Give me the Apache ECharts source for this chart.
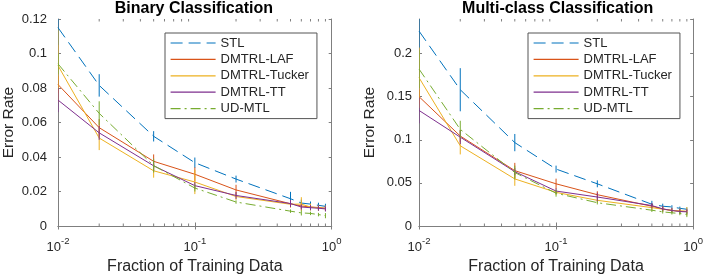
<!DOCTYPE html>
<html><head><meta charset="utf-8">
<script src="https://cdn.jsdelivr.net/npm/echarts@6/dist/echarts.min.js"></script>
<style>html,body{margin:0;padding:0;background:#fff}#c{width:706px;height:280px}</style>
</head><body><div id="c"></div>
<script>
// ---------- data ----------
const fractions = [0.01, 0.02, 0.05, 0.1, 0.2, 0.5, 0.6, 0.7, 0.8, 0.9];
const seriesNames = ['STL', 'DMTRL-LAF', 'DMTRL-Tucker', 'DMTRL-TT', 'UD-MTL'];
const minorTickValues = [0.02, 0.03, 0.04, 0.05, 0.06, 0.07, 0.08, 0.09, 0.2, 0.3, 0.4, 0.5, 0.6, 0.7, 0.8, 0.9];
const chartTitles = ['Binary Classification', 'Multi-class Classification'];

// Binary classification: means and error half-widths
const binSTL      = [0.115, 0.0815, 0.052, 0.0367, 0.0272, 0.0158, 0.0133, 0.0127, 0.0120, 0.0114];
const binSTLErr   = [0.010, 0.0065, 0.003, 0.003, 0.002, 0.004, 0.002, 0.0015, 0.0015, 0.0015];
const binLAF      = [0.082, 0.057, 0.0375, 0.030, 0.0209, 0.0129, 0.0116, 0.0110, 0.0107, 0.0103];
const binLAFErr   = [0.005, 0.005, 0.004, 0.004, 0.003, 0.002, 0.002, 0.0015, 0.0015, 0.0015];
const binTucker   = [0.093, 0.051, 0.032, 0.0255, 0.0171, 0.0126, 0.0127, 0.0110, 0.0105, 0.0102];
const binTuckerErr= [0.021, 0.007, 0.004, 0.007, 0.002, 0.002, 0.004, 0.002, 0.0015, 0.0015];
const binTT       = [0.073, 0.054, 0.0349, 0.0234, 0.0177, 0.0130, 0.0110, 0.0106, 0.0103, 0.0099];
const binTTErr    = [0.007, 0.004, 0.003, 0.002, 0.002, 0.002, 0.0015, 0.0015, 0.0015, 0.0015];
const binUD       = [0.094, 0.0653, 0.035, 0.022, 0.0139, 0.0086, 0.0076, 0.0073, 0.0066, 0.0060];
const binUDErr    = [0.006, 0.007, 0.004, 0.002, 0.001, 0.001, 0.0015, 0.001, 0.001, 0.0015];

// Multi-class classification
const mulSTL      = [0.226, 0.158, 0.0967, 0.066, 0.0489, 0.0252, 0.0229, 0.0221, 0.0205, 0.0194];
const mulSTLErr   = [0.020, 0.025, 0.010, 0.004, 0.004, 0.004, 0.003, 0.002, 0.002, 0.002];
const mulLAF      = [0.150, 0.1043, 0.0642, 0.0489, 0.0363, 0.0229, 0.0198, 0.0180, 0.0172, 0.0168];
const mulLAFErr   = [0.008, 0.007, 0.009, 0.006, 0.004, 0.003, 0.003, 0.002, 0.002, 0.002];
const mulTucker   = [0.172, 0.093, 0.0546, 0.039, 0.0298, 0.0213, 0.0195, 0.0180, 0.0175, 0.0170];
const mulTuckerErr= [0.035, 0.010, 0.008, 0.003, 0.003, 0.003, 0.003, 0.003, 0.003, 0.005];
const mulTT       = [0.134, 0.103, 0.063, 0.0405, 0.0336, 0.0237, 0.0198, 0.0180, 0.0168, 0.0164];
const mulTTErr    = [0.015, 0.008, 0.004, 0.003, 0.005, 0.003, 0.003, 0.003, 0.003, 0.003];
const mulUD       = [0.182, 0.112, 0.062, 0.038, 0.027, 0.0183, 0.0164, 0.0153, 0.0145, 0.0133];
const mulUDErr    = [0.022, 0.010, 0.008, 0.004, 0.002, 0.002, 0.002, 0.002, 0.002, 0.003];

// ---------- style ----------
const FONT = '"Liberation Sans", Arial, Helvetica, sans-serif';
const AXIS_COLOR = '#7f7f7f';
const TEXT_COLOR = '#262626';
const COLORS = ['#0072BD', '#D95319', '#EDB120', '#7E2F8E', '#77AC30'];
const LINE_TYPES = [[12, 6], 'solid', 'solid', 'solid', [10, 4, 2, 4]];

const panels = [
  { means: [binSTL, binLAF, binTucker, binTT, binUD], errs: [binSTLErr, binLAFErr, binTuckerErr, binTTErr, binUDErr],
    grid: { left: 56, top: 19, width: 275.7, height: 210.3 }, yMax: 0.12, yInterval: 0.02, yLabelMargin: 11, legendLeft: 165 },
  { means: [mulSTL, mulLAF, mulTucker, mulTT, mulUD], errs: [mulSTLErr, mulLAFErr, mulTuckerErr, mulTTErr, mulUDErr],
    grid: { left: 419, top: 19, width: 277.3, height: 210.3 }, yMax: 0.24, yInterval: 0.05, yLabelMargin: 7, legendLeft: 528 }
];

const option = { animation: false, backgroundColor: '#fff', title: [], grid: [], xAxis: [], yAxis: [], legend: [], series: [] };

panels.forEach((p, g) => {
  option.grid.push(Object.assign({ containLabel: false }, p.grid));
  option.title.push({
    text: chartTitles[g], left: p.grid.left + p.grid.width / 2, top: 1, textAlign: 'center', padding: 0,
    textStyle: { fontFamily: FONT, fontSize: 16, fontWeight: 'bold', color: '#000' }
  });
  const axisLine = { show: true, lineStyle: { color: AXIS_COLOR, width: 1 } };
  option.xAxis.push({
    type: 'log', logBase: 10, min: 0.01, max: 1, gridIndex: g, position: 'bottom',
    axisLine, axisTick: { inside: true, length: 3.5, lineStyle: { color: AXIS_COLOR } },
    splitLine: { show: false }, minorTick: { show: false },
    axisLabel: {
      margin: 10,
      formatter: v => '{b|10}{s|' + Math.round(Math.log10(v)) + '}',
      rich: {
        b: { fontFamily: FONT, fontSize: 13, color: TEXT_COLOR, lineHeight: 18, verticalAlign: 'bottom' },
        s: { fontFamily: FONT, fontSize: 9.5, color: TEXT_COLOR, lineHeight: 10, verticalAlign: 'top' }
      }
    },
    name: 'Fraction of Training Data', nameLocation: 'middle', nameGap: 33,
    nameTextStyle: { fontFamily: FONT, fontSize: 16, color: TEXT_COLOR }
  });
  option.xAxis.push({
    type: 'log', logBase: 10, min: 0.01, max: 1, gridIndex: g, position: 'top',
    axisLine, axisTick: { inside: true, length: 3.5, lineStyle: { color: AXIS_COLOR } },
    splitLine: { show: false }, axisLabel: { show: false }
  });
  option.yAxis.push({
    type: 'value', min: 0, max: p.yMax, interval: p.yInterval, gridIndex: g, position: 'left',
    axisLine, axisTick: { inside: true, length: 3, lineStyle: { color: AXIS_COLOR } },
    splitLine: { show: false },
    axisLabel: { margin: p.yLabelMargin, showMaxLabel: g === 0, fontFamily: FONT, fontSize: 13, color: TEXT_COLOR },
    name: 'Error Rate', nameLocation: 'middle', nameGap: 41, nameRotate: 90,
    nameTextStyle: { fontFamily: FONT, fontSize: 15.5, color: TEXT_COLOR }
  });
  option.yAxis.push({
    type: 'value', min: 0, max: p.yMax, interval: p.yInterval, gridIndex: g, position: 'right',
    axisLine, axisTick: { inside: true, length: 3, lineStyle: { color: AXIS_COLOR } },
    splitLine: { show: false }, axisLabel: { show: false }
  });
  const xi = 2 * g, yi = 2 * g;

  // minor ticks of the log axis (bottom and top)
  option.series.push({
    type: 'custom', name: 'minor-ticks-' + g, xAxisIndex: xi, yAxisIndex: yi, silent: true, z: 5,
    data: minorTickValues.map(v => [v, 0]),
    renderItem: (params, api) => {
      const x = api.coord([api.value(0), 0])[0];
      const cs = params.coordSys;
      const st = { stroke: AXIS_COLOR, lineWidth: 1 };
      return { type: 'group', children: [
        { type: 'line', shape: { x1: x, y1: cs.y + cs.height, x2: x, y2: cs.y + cs.height - 2.5 }, style: st },
        { type: 'line', shape: { x1: x, y1: cs.y, x2: x, y2: cs.y + 2.5 }, style: st }
      ] };
    }
  });

  seriesNames.forEach((name, k) => {
    const m = p.means[k], e = p.errs[k];
    option.series.push({
      type: 'line', name, xAxisIndex: xi, yAxisIndex: yi, symbol: 'none', showSymbol: false,
      data: fractions.map((x, i) => [x, m[i]]),
      lineStyle: { color: COLORS[k], width: 1, type: LINE_TYPES[k] },
      itemStyle: { color: COLORS[k] }, z: 2 + k * 0.01
    });
    option.series.push({
      type: 'custom', name: name + ' error', xAxisIndex: xi, yAxisIndex: yi, clip: true, silent: true,
      z: 2 + k * 0.01,
      data: fractions.map((x, i) => [x, m[i] - e[i], m[i] + e[i]]),
      encode: { x: 0, y: [1, 2] },
      renderItem: (params, api) => {
        const a = api.coord([api.value(0), api.value(1)]);
        const b = api.coord([api.value(0), api.value(2)]);
        return { type: 'line', shape: { x1: a[0], y1: a[1], x2: b[0], y2: b[1] }, style: { stroke: COLORS[k], lineWidth: 1 } };
      }
    });
  });

  option.legend.push({
    data: seriesNames, orient: 'vertical', left: p.legendLeft, top: 33,
    itemWidth: 45, itemHeight: 14, itemGap: 3.4, padding: [3.5, 8, 3.5, 5],
    borderColor: '#555', borderWidth: 1, backgroundColor: '#fff', z: 10,
    itemStyle: { opacity: 0, borderWidth: 0 },
    lineStyle: { width: 1.2 },
    textStyle: { fontFamily: FONT, fontSize: 13, color: TEXT_COLOR }
  });
});

const chart = echarts.init(document.getElementById('c'), null, { renderer: 'canvas' });
chart.setOption(option);
</script>
</body></html>
